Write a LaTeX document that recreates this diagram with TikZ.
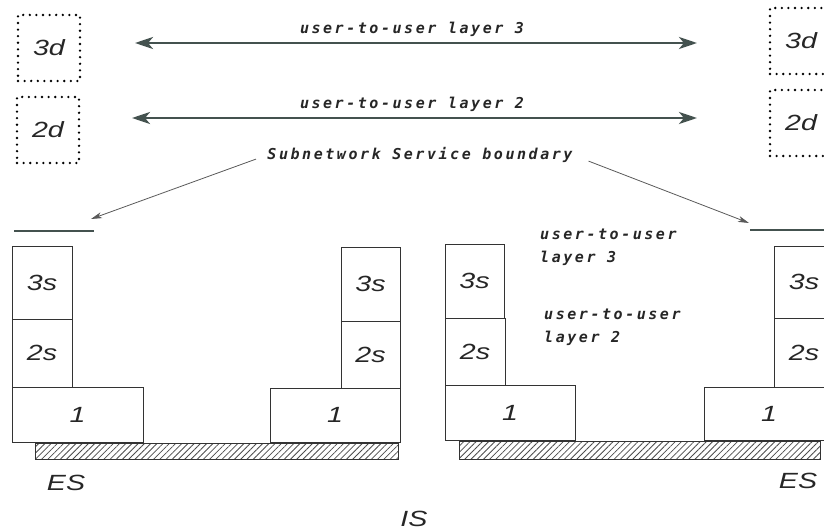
\documentclass[tikz,border=0pt]{standalone}
\usepackage{fontspec}
\setmainfont{Liberation Sans}
\newfontfamily\boxfont[FakeStretch=1.3]{Liberation Sans}
\newfontfamily\plotfont[LetterSpace=17]{DejaVu Sans Mono}
\usetikzlibrary{arrows.meta,patterns.meta}
\definecolor{slate}{HTML}{44524F}

\begin{document}
\begin{tikzpicture}[x=1pt,y=-1pt,
  big/.style={inner sep=0pt,text=black!85,font=\boxfont\itshape\fontsize{22}{24}\selectfont},
  lay/.style={big,draw=black!80,line width=0.7pt},
  dbox/.style={big,draw=black,line width=2.6pt,line cap=round,dash pattern=on 0pt off 6.6pt,minimum width=62pt,minimum height=66pt},
  tag/.style={inner sep=0pt,text=black!85,font=\plotfont\bfseries\itshape\fontsize{15}{23}\selectfont},
  peer/.style={slate,line width=2.8pt,{Stealth[length=18pt,width=12pt,inset=5pt]}-{Stealth[length=18pt,width=12pt,inset=5pt]}},
  pointer/.style={black!65,line width=0.8pt,-{Stealth[length=11pt,width=6pt,inset=3pt]}},
  bound/.style={slate,line width=2.8pt},
  medium/.style={draw=black!80,line width=0.6pt,pattern={Lines[angle=45,distance=4.4pt,line width=0.8pt]},pattern color=black!70}]
\clip (0,0) rectangle (824,532);

% end-to-end peers above the subnetwork service
\node[dbox] (d3l) at (49,48) {3d}; \node[dbox] (d2l) at (48,130) {2d};
\node[dbox] (d3r) at (801,41) {3d}; \node[dbox] (d2r) at (801,123) {2d};
\coordinate (u3a) at (135,43); \coordinate (u3b) at (697,43);
\coordinate (u2a) at (132,118); \coordinate (u2b) at (697,118);
\draw[peer] (u3a) -- (u3b); \node[tag] (t3) at (412,29) {user-to-user layer 3};
\draw[peer] (u2a) -- (u2b); \node[tag] (t2) at (412,104) {user-to-user layer 2};

% boundary markers
\node[tag] (sub) at (420,155) {Subnetwork Service boundary};
\coordinate (bl) at (91,219); \coordinate (br) at (749,223);
\draw[bound] (14,231) -- (94,231); \draw[bound] (750,230) -- (830,230);
\draw[pointer,shorten <=12pt] (sub.west) -- (bl);
\draw[pointer,shorten <=17pt] (sub.east) -- (br);

% left subnetwork: ES and IS
\node[lay,minimum width=60pt,minimum height=73pt] (a3) at (42,282.5) {3s};
\node[lay,minimum width=60pt,minimum height=68pt] (a2) at (42,353) {2s};
\node[lay,minimum width=131pt,minimum height=55pt] (a1) at (77.5,414.5) {1};
\node[lay,minimum width=59pt,minimum height=74pt] (b3) at (370.5,284) {3s};
\node[lay,minimum width=59pt,minimum height=67pt] (b2) at (370.5,354.5) {2s};
\node[lay,minimum width=130pt,minimum height=54pt] (b1) at (335,415) {1};
\draw[medium] (35,443) rectangle (398,459);

% right subnetwork: IS and ES
\node[lay,minimum width=59pt,minimum height=74pt] (c3) at (474.5,281) {3s};
\node[lay,minimum width=60pt,minimum height=67pt] (c2) at (475,351.5) {2s};
\node[lay,minimum width=130pt,minimum height=55pt] (c1) at (510,412.5) {1};
\node[lay,minimum width=60pt,minimum height=72pt] (e3) at (804,282) {3s};
\node[lay,minimum width=60pt,minimum height=69pt] (e2) at (804,352.5) {2s};
\node[lay,minimum width=130pt,minimum height=53pt] (e1) at (769,413.5) {1};
\draw[medium] (459,441) rectangle (820,459);
\node[tag,anchor=west,align=left] (m3) at (540,247.5) {user-to-user\\layer 3};
\node[tag,anchor=west,align=left] (m2) at (544,327) {user-to-user\\layer 2};

\node[big] (esl) at (66,483) {ES}; \node[big] (esr) at (798,481) {ES};
\node[big] (is) at (414,519) {IS};
\end{tikzpicture}
\end{document}
